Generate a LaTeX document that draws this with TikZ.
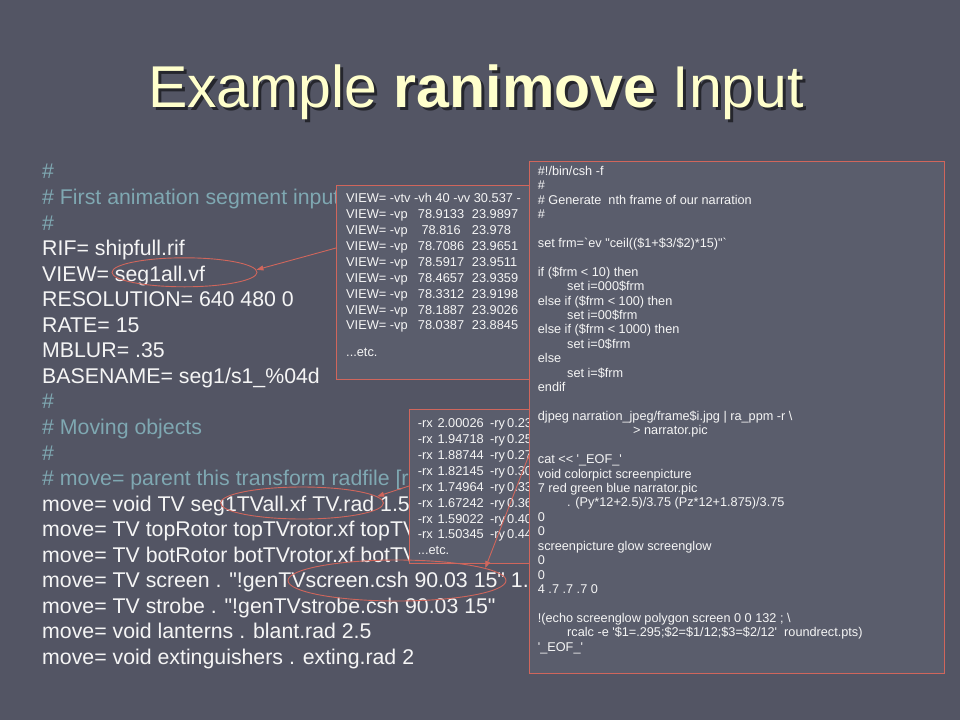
\documentclass[tikz,border=0pt]{standalone}
\usepackage{fontspec}
\setmainfont{Liberation Sans}
\newfontfamily\cf{Liberation Sans}
\usetikzlibrary{arrows.meta,shapes.geometric}
\definecolor{bg}{HTML}{535564}
\definecolor{boxfill}{HTML}{5A5D6C}
\definecolor{boxline}{HTML}{D0665C}
\definecolor{cmt}{HTML}{7FA8B2}
\definecolor{titlec}{HTML}{FFFFCC}
\definecolor{txt}{HTML}{F5F5F5}
\newcommand\vprow[2]{\makebox[71.7pt][l]{VIEW= -vp}\makebox[54pt][l]{#1}#2}
\newcommand\rxrow[3]{\makebox[19.6pt][l]{-rx}\makebox[52.7pt][l]{#1}\makebox[17pt][l]{-ry}#2}
\newcommand\cm[1]{{\color{cmt}#1}}
\begin{document}
\begin{tikzpicture}[x=1pt,y=-1pt,
  codebox/.style={draw=boxline,fill=boxfill,line width=1.1pt,rectangle,anchor=north west,inner sep=0pt},
  hl/.style={draw=boxline,ellipse,line width=0.9pt,inner sep=0pt},
  callout/.style={draw=boxline,line width=0.9pt,-{Triangle[length=7pt,width=5pt]}},
  codetext/.style={anchor=base west,inner sep=0pt,text=txt}]
\fill[bg] (0,0) rectangle (960,720);
\useasboundingbox (0,0) rectangle (960,720);
% title
\node[anchor=base,font=\fontsize{59}{70}\selectfont,text=black,opacity=0.55] (titleshadow) at (479,110) {Example \textbf{ranimove} Input};
\node[anchor=base,font=\fontsize{59}{70}\selectfont,text=titlec] (title) at (476,107) {Example \textbf{ranimove} Input};
% left listing
\node[codetext,font=\cf\fontsize{21.3}{25.56}\selectfont] (left) at (42,178.9) {\begin{tabular}[t]{@{}l@{}}
\cm{\#}\\
\cm{\# First animation segment input}\\
\cm{\#}\\
RIF= shipfull.rif\\
VIEW= seg1all.vf\\
RESOLUTION= 640 480 0\\
RATE= 15\\
MBLUR= .35\\
BASENAME= seg1/s1\_\%04d\\
\cm{\#}\\
\cm{\# Moving objects}\\
\cm{\#}\\
\cm{\# move= parent this transform radfile [rtime]}\\
move= void TV seg1TVall.xf TV.rad 1.5\\
move= TV topRotor topTVrotor.xf topTVrotor.rad\\
move= TV botRotor botTVrotor.xf botTVrotor.rad\\
move= TV screen . "!genTVscreen.csh 90.03 15" 1.5\\
move= TV strobe . "!genTVstrobe.csh 90.03 15"\\
move= void lanterns . blant.rad 2.5\\
move= void extinguishers . exting.rad 2
\end{tabular}};
% box 1
\node[codebox,minimum width=224pt,minimum height=194pt] (box1) at (336,185) {};
\node[codetext,font=\cf\fontsize{12.8}{15.9}\selectfont] (t1) at (346,202.7) {\begin{tabular}[t]{@{}l@{}}
VIEW= -vtv -vh 40 -vv 30.537 -\\
\vprow{78.9133}{23.9897}\\
\vprow{\hspace{3.6pt}78.816}{23.978}\\
\vprow{78.7086}{23.9651}\\
\vprow{78.5917}{23.9511}\\
\vprow{78.4657}{23.9359}\\
\vprow{78.3312}{23.9198}\\
\vprow{78.1887}{23.9026}\\
\vprow{78.0387}{23.8845}\\[10.9pt]
...etc.
\end{tabular}};
% box 2
\node[codebox,minimum width=151pt,minimum height=154pt] (box2) at (409,409) {};
\node[codetext,font=\cf\fontsize{12.8}{15.9}\selectfont] (t2) at (417.7,427.6) {\begin{tabular}[t]{@{}l@{}}
\rxrow{2.00026}{0.23}{}\\
\rxrow{1.94718}{0.25}{}\\
\rxrow{1.88744}{0.27}{}\\
\rxrow{1.82145}{0.30}{}\\
\rxrow{1.74964}{0.33}{}\\
\rxrow{1.67242}{0.36}{}\\
\rxrow{1.59022}{0.40}{}\\
\rxrow{1.50345}{0.44}{}\\
...etc.
\end{tabular}};
% highlights
\node[hl,minimum width=145pt,minimum height=29pt] (e1) at (184.5,272.3) {};
\node[hl,minimum width=163pt,minimum height=32pt] (e2) at (302,503) {};
\node[hl,minimum width=218pt,minimum height=41pt] (e3) at (397,580.5) {};
\path (box1.north west) ++(0,63) coordinate (a1s);
\path (box2.north west) ++(0,77) coordinate (a2s);
\draw[callout] (a1s) -- (e1.2);
\draw[callout] (a2s) -- (e2.5);
% box 3
\node[codebox,minimum width=415pt,minimum height=512pt] (box3) at (529,161) {};
\path (box3.north west) ++(0,294) coordinate (a3s);
\draw[callout] (a3s) -- (e3.8);
\node[codetext,font=\cf\fontsize{12.7}{14.42}\selectfont] (t3) at (537.7,175.3) {\begin{tabular}[t]{@{}l@{}}
\#!/bin/csh -f\\
\#\\
\# Generate\ \ nth frame of our narration\\
\#\\
\\
set frm=\textasciigrave ev "ceil((\$1+\$3/\$2)*15)"\textasciigrave\\
\\
if (\$frm < 10) then\\
\hspace*{29.3pt}set i=000\$frm\\
else if (\$frm < 100) then\\
\hspace*{29.3pt}set i=00\$frm\\
else if (\$frm < 1000) then\\
\hspace*{29.3pt}set i=0\$frm\\
else\\
\hspace*{29.3pt}set i=\$frm\\
endif\\
\\
djpeg narration\_jpeg/frame\$i.jpg | ra\_ppm -r \textbackslash\\
\hspace*{95.3pt}> narrator.pic\\
\\
cat << '\_EOF\_'\\
void colorpict screenpicture\\
7 red green blue narrator.pic\\
\hspace*{29.3pt}. (Py*12+2.5)/3.75 (Pz*12+1.875)/3.75\\
0\\
0\\
screenpicture glow screenglow\\
0\\
0\\
4 .7 .7 .7 0\\
\\
!(echo screenglow polygon screen 0 0 132 ; \textbackslash\\
\hspace*{29.3pt}rcalc -e '\$1=.295;\$2=\$1/12;\$3=\$2/12'\ \ roundrect.pts)\\
'\_EOF\_'
\end{tabular}};
\end{tikzpicture}
\end{document}
